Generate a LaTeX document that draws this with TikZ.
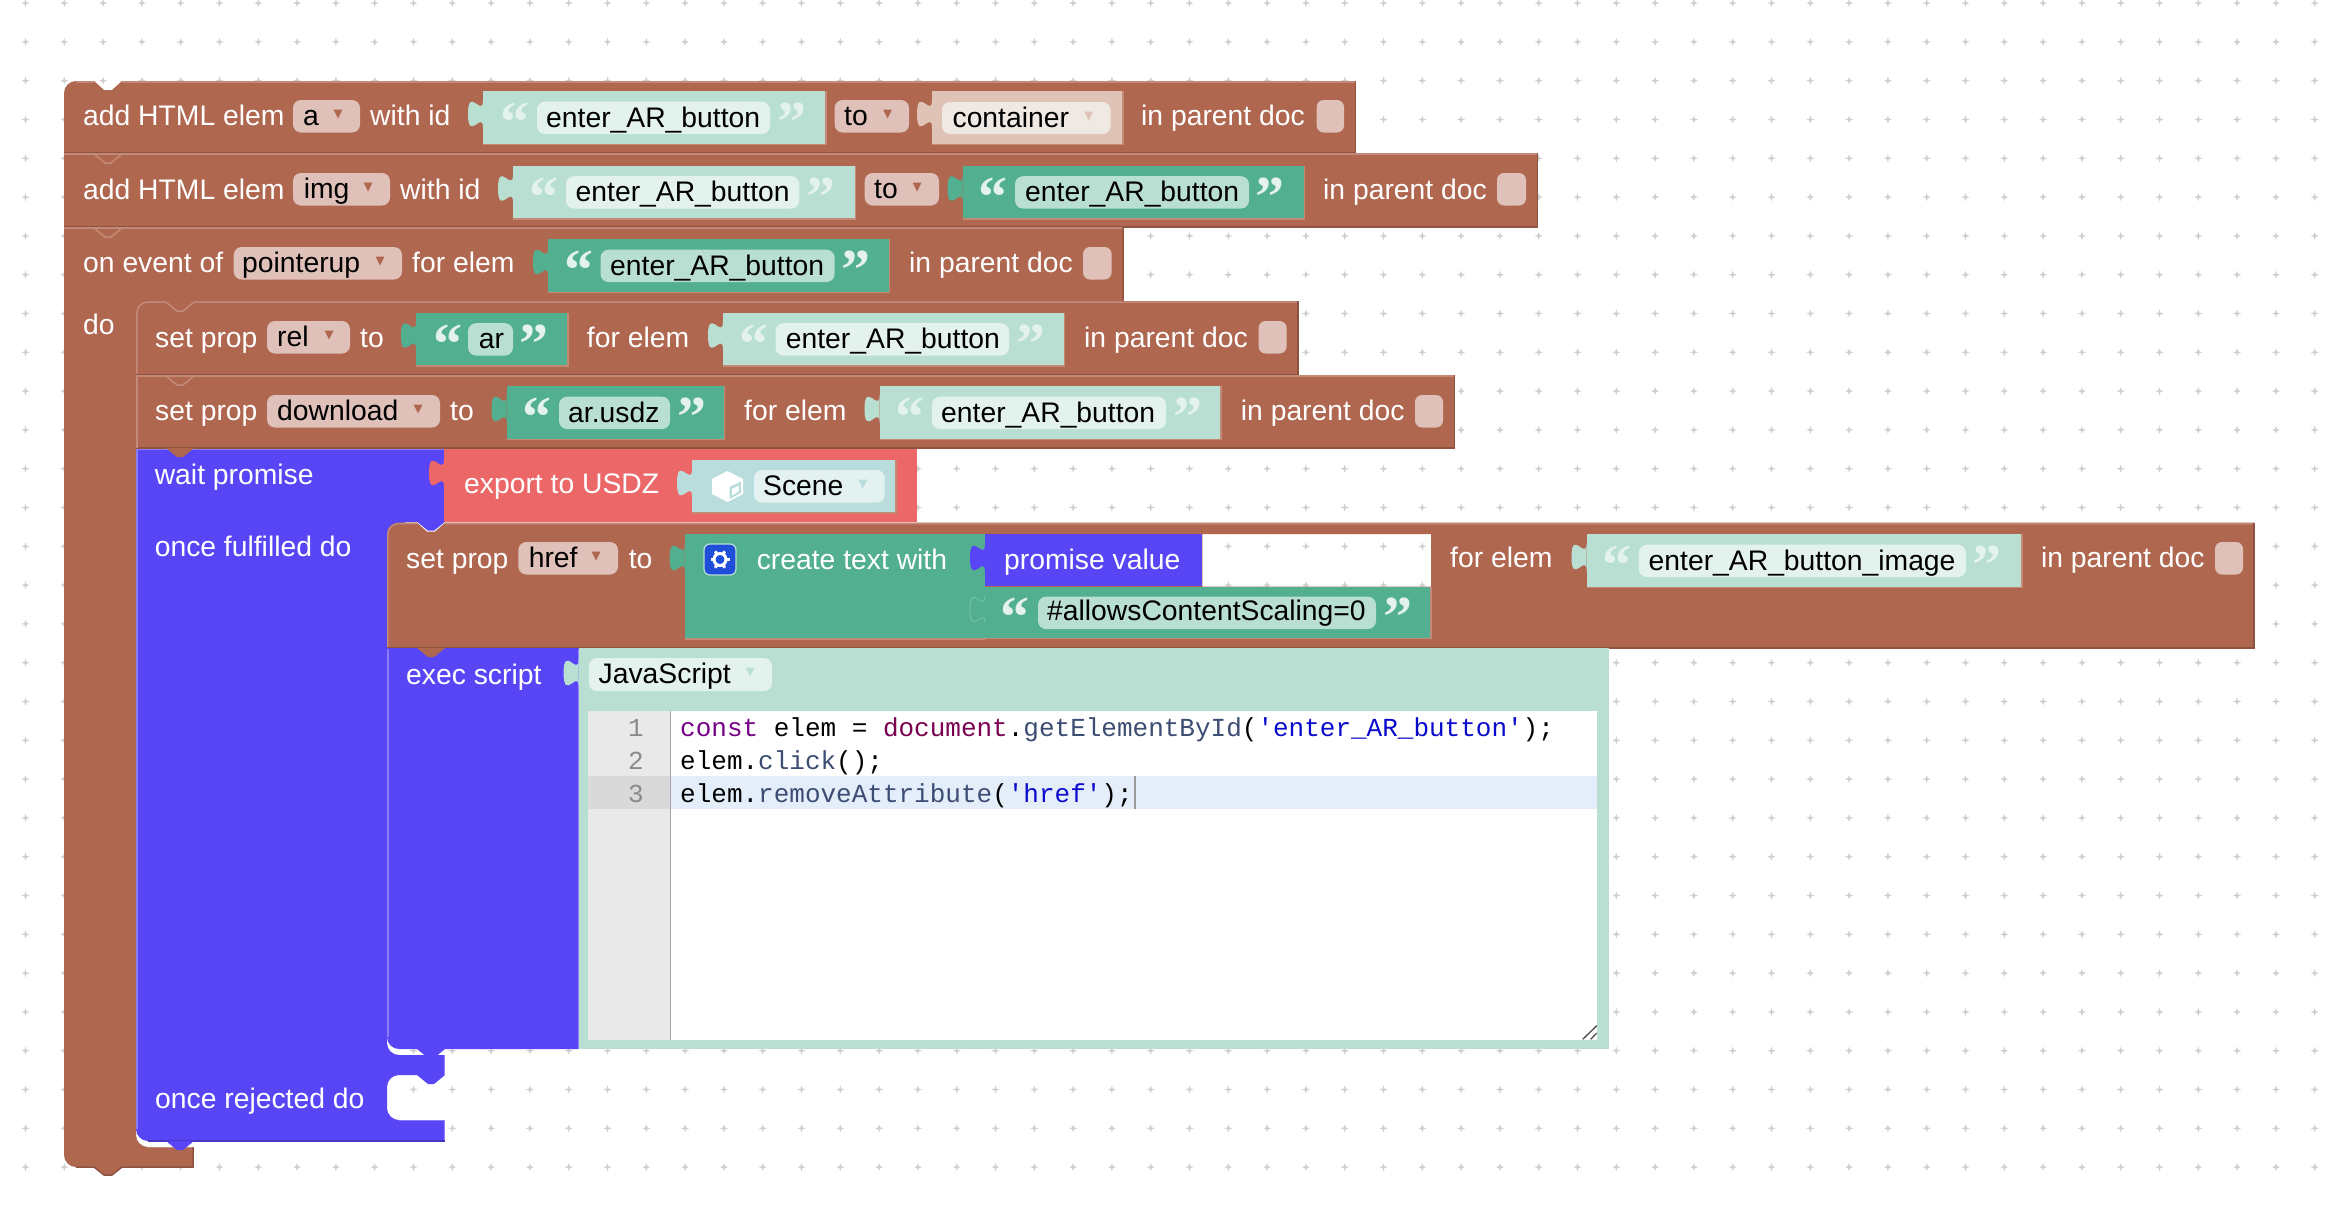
\documentclass[tikz,border=0pt]{standalone}
\usepackage{fontspec}
\setmainfont{Liberation Sans}
\setmonofont{Liberation Mono}
\newfontfamily\qfont{Liberation Serif}
\definecolor{brn}{HTML}{B06750}
\definecolor{brnL}{HTML}{C48A78}
\definecolor{brnD}{HTML}{8D5240}
\definecolor{pur}{HTML}{5846F6}
\definecolor{purL}{HTML}{8A7DFA}
\definecolor{purD}{HTML}{4638C5}
\definecolor{rd}{HTML}{EC6868}
\definecolor{gD}{HTML}{52AF90}
\definecolor{gL}{HTML}{B9DFD3}
\definecolor{gF}{HTML}{E3F2ED}
\definecolor{ddc}{HTML}{DFC1B9}
\definecolor{contc}{HTML}{DFC3B6}
\definecolor{contf}{HTML}{F0E8E3}
\definecolor{scn}{HTML}{B9DCDC}
\definecolor{scnf}{HTML}{E3F1F1}
\definecolor{dotc}{HTML}{CFCFCF}
\definecolor{gut}{HTML}{E9E9E9}
\definecolor{gutA}{HTML}{D9D9D9}
\definecolor{lineA}{HTML}{E4EEFB}
\definecolor{ckw}{HTML}{770088}
\definecolor{cdef}{HTML}{7A0050}
\definecolor{cprop}{HTML}{3C4C72}
\definecolor{cstr}{HTML}{0A0ACC}
\definecolor{cnum}{HTML}{8A8A8A}
\definecolor{gearb}{HTML}{1F4FD8}
\newcounter{tn}
\tikzset{
  lab/.style={anchor=base west,inner sep=0pt,text=white,font=\fontsize{28.3}{32}\selectfont},
  fldtxt/.style={anchor=base west,inner sep=0pt,text=black,font=\fontsize{28.3}{32}\selectfont},
  quo/.style={anchor=base,inner sep=0pt,font=\qfont\bfseries\fontsize{58}{58}\selectfont},
  codetxt/.style={anchor=base west,inner sep=0pt,text=black,font=\ttfamily\fontsize{26}{30}\selectfont},
  numtxt/.style={anchor=base east,inner sep=0pt,text=cnum,font=\ttfamily\fontsize{26}{30}\selectfont}
}
\newcommand{\lbl}[3]{\stepcounter{tn}\node[lab] (t\thetn) at (#1,{#2+1.5}) {#3};}
\newcommand{\ftx}[3]{\stepcounter{tn}\node[fldtxt] (t\thetn) at (#1,#2) {#3};}
% input puzzle tab: x, y of start, colour
\newcommand{\itab}[3]{\fill[#3] (#1,#2) .. controls +(0,18.75) and +(0,-29) .. ({#1-15},{#2+14}) .. controls +(0,29) and +(0,-18.7) .. (#1,{#2+28}) -- cycle;}
% value box with edges
\newcommand{\valbox}[5]{\fill[#5] (#1,#2) rectangle (#3,#4);\itab{#1}{#2+9}{#5}%
  \draw[brnL,line width=1.5pt] (#1,#4) -- (#3,#4) -- (#3,#2);}
\newcommand{\fld}[5]{\fill[#5,rounded corners=8pt] (#1,#2) rectangle (#3,#4);}
\newcommand{\arrowd}[3]{\fill[#3] ({#1-4.5},{#2-4.5}) -- ({#1+4.5},{#2-4.5}) -- (#1,{#2+4.5}) -- cycle;}
% dropdown on a brown block: x0 ftop x1 textx arrowx text
\newcommand{\dd}[6]{\fld{#1}{#2}{#3}{#2+32.5}{ddc}\ftx{#4}{#2+25}{#6}\arrowd{#5}{#2+14}{brn}}
\newcommand{\cb}[3]{\fill[ddc,rounded corners=7pt] (#1,#2) rectangle (#3,{#2+32.5});}
\newcommand{\qo}[3]{\stepcounter{tn}\node[quo,text=#3] (t\thetn) at (#1,{#2+40}) {“};}
\newcommand{\qc}[3]{\stepcounter{tn}\node[quo,text=#3] (t\thetn) at (#1,{#2+40}) {”};}
% string: x0 top x1 fx0 fx1 qox qcx tx text
\newcommand{\sL}[9]{\valbox{#1}{#2}{#3}{#2+53.5}{gL}\fld{#4}{#2+10.7}{#5}{#2+43}{gF}\qo{#6}{#2+10.7}{gF}\qc{#7}{#2+10.7}{gF}\ftx{#8}{#2+36}{#9}}
\newcommand{\sD}[9]{\valbox{#1}{#2}{#3}{#2+53.5}{gD}\fld{#4}{#2+10.7}{#5}{#2+43}{gL}\qo{#6}{#2+10.7}{gF}\qc{#7}{#2+10.7}{gF}\ftx{#8}{#2+36}{#9}}
% statement rectangle with edges
\newcommand{\rowb}[4]{\fill[brn] (#1,#2) rectangle (#3,#4);
  \draw[brnL,line width=1.5pt] (#1,{#2+1}) -- (#3,{#2+1});
  \draw[brnD,line width=1.5pt] (#1,#4) -- (#3,#4) -- (#3,#2);}
% nub hanging below a block edge: x0 y colour
\newcommand{\nub}[3]{\fill[#3] ({#1+30},#2) -- ({#1+41},{#2+9}) -- ({#1+47},{#2+9}) -- ({#1+58},#2) -- cycle;}
\newcommand{\nubV}[2]{\draw[brnL,line width=1.5pt] ({#1+30},{#2+1}) -- ({#1+41},{#2+10}) -- ({#1+47},{#2+10}) -- ({#1+58},{#2+1});}
\begin{document}
\begin{tikzpicture}[x=1pt,y=-1pt]
\useasboundingbox (0,0) rectangle (2351,1221);
\fill[white] (0,0) rectangle (2351,1221);
% grid
\foreach \i in {0,...,59}{\foreach \j in {0,...,30}{
  \pgfmathsetmacro{\gx}{25.5+38.8*\i}\pgfmathsetmacro{\gy}{3.1+38.8*\j}
  \fill[dotc] (\gx,\gy-4) -- (\gx+1,\gy-1) -- (\gx+4,\gy) -- (\gx+1,\gy+1) -- (\gx,\gy+4) -- (\gx-1,\gy+1) -- (\gx-4,\gy) -- (\gx-1,\gy-1) -- cycle;
}}
% ===== outer statements =====
\fill[brn] (64,93) .. controls +(0,-6.6) and +(-6.6,0) .. (76,81) -- (94,81) -- (104,90) -- (112,90) -- (122,81) -- (1355.5,81) -- (1355.5,153) -- (64,153) -- cycle;
\draw[brnL,line width=1.5pt] (76,82) -- (94,82) (122,82) -- (1355.5,82);
\draw[brnD,line width=1.5pt] (64,153) -- (1355.5,153) -- (1355.5,81);
\rowb{64}{153}{1537.7}{227}
\nubV{64}{153}
% spine + event block
\fill[brn] (64,227) -- (1123,227) -- (1123,301) -- (136,301) -- (136,1135) .. controls +(0,6.6) and +(-6.6,0) .. (148,1147) -- (193,1147) -- (193,1167) -- (122,1167) -- (112,1175) -- (104,1175) -- (94,1167) -- (76,1167) .. controls +(-6.6,0) and +(0,6.6) .. (64,1155) -- cycle;
\fill[brn] (134,299) rectangle (150,315);
\draw[brnL,line width=1.5pt] (64,228) -- (1123,228) (148,1147.5) -- (193,1147.5);
\draw[brnD,line width=1.5pt] (1123,227) -- (1123,301) (193,1147) -- (193,1167) -- (122,1167) -- (112,1175) -- (104,1175) -- (94,1167) -- (76,1167);
\nubV{64}{227}
% set prop rel / download
\fill[brn] (136,313) .. controls +(0,-6.6) and +(-6.6,0) .. (148,301) -- (1298,301) -- (1298,375) -- (136,375) -- cycle;
\draw[brnL,line width=1.5pt] (136.8,375) -- (136.8,313) .. controls +(0,-6) and +(-6,0) .. (148,302) -- (166,302) (194,302) -- (1298,302);
\draw[brnD,line width=1.5pt] (136,375) -- (1298,375) -- (1298,301);
\nubV{136}{301}
\rowb{136}{375}{1454.5}{448}
\draw[brnL,line width=1.5pt] (136.8,375) -- (136.8,448);
\nubV{136}{375}
% ===== purple promise block =====
\fill[pur] (387,520) rectangle (405,540);
\fill[pur] (136,449) -- (444,449) -- (444,522) -- (387,522) -- (387,1043) .. controls +(0,6.6) and +(-6.6,0) .. (399,1055) -- (444.6,1055) -- (444.6,1075) -- (399,1075) .. controls +(-6.6,0) and +(0,-6.6) .. (387,1087) -- (387,1108) .. controls +(0,6.6) and +(-6.6,0) .. (399,1120) -- (444.6,1120) -- (444.6,1141) -- (148,1141) .. controls +(-6.6,0) and +(0,6.6) .. (136,1129) -- cycle;
\draw[purD,line width=1.5pt] (148,1141) -- (444.6,1141);
\draw[purL,line width=1.5pt] (136,449.5) -- (444,449.5) (399,1120.5) -- (444.6,1120.5) (136.8,449) -- (136.8,1129);
\nub{136}{448}{brn}
\nub{136}{1141}{pur}
\nub{387}{1075}{pur}
% export to USDZ
\fill[rd] (444,449) rectangle (917,521.7);
\itab{444}{459}{rd}
\valbox{692}{460}{896}{513}{scn}
% Scene field
\fld{754}{470}{884.7}{502.7}{scnf}
\ftx{763}{495}{Scene}
\arrowd{862.8}{484}{scn}
\lbl{464}{492}{export to USDZ}
% cube icon
\fill[white] (727.5,471) -- (743,479) -- (743,494) -- (727.5,502) -- (712,494) -- (712,479) -- cycle;
\fill[scn] (729.5,487) -- (741,481.5) -- (741,493) -- (729.5,499) -- cycle;
\fill[white] (732,489) -- (738.5,485.5) -- (738.5,491.5) -- (732,495.5) -- cycle;
% ===== set prop href with window =====
\fill[brn,even odd rule] (387,534) .. controls +(0,-6.6) and +(-6.6,0) .. (399,522.7) -- (417,522.7) -- (427,531.7) -- (435,531.7) -- (445,522.7) -- (2254,522.7) -- (2254,648) -- (387,648) -- cycle (1202.4,534) rectangle (1431,586.5);
\draw[brnL,line width=1.5pt] (387.8,648) -- (387.8,534) .. controls +(0,-6) and +(-6,0) .. (399,523.5) -- (417,523.5) (445,523.5) -- (2254,523.5);
\draw[brnD,line width=1.5pt] (387,648) -- (2254,648) -- (2254,522.7);
\nub{387}{521.7}{pur}
% ===== exec script =====
\fill[pur] (387,648) -- (578.6,648) -- (578.6,1049) -- (399,1049) .. controls +(-6.6,0) and +(0,6.6) .. (387,1037) -- cycle;
\draw[purL,line width=1.5pt] (387.8,649) -- (387.8,1037);
\fill[gL] (578.6,648) rectangle (1608.7,1049);
\nub{387}{1049}{pur}
\nub{387}{648}{brn}
\itab{578.6}{659}{gL}
\fld{588.8}{658}{772}{691}{gF}
\ftx{598.5}{683}{JavaScript}
\arrowd{750}{672}{gL}
\lbl{406}{683}{exec script}
% editor
\fill[white] (588,711) rectangle (1597,1040);
\fill[gut] (588,711) rectangle (670,1040);
\fill[gutA] (588,776) rectangle (670,809);
\fill[lineA] (671,776) rectangle (1597,809);
\draw[black!35,line width=1pt] (670.5,711) -- (670.5,1040);
\draw[black!40,line width=1.5pt] (1135,776) -- (1135,809);
\draw[black!70,line width=1.3pt] (1582.7,1039.3) -- (1596.7,1025.7) (1590.7,1039.3) -- (1596.7,1033);
\stepcounter{tn}\node[numtxt] (t\thetn) at (644,736) {1};
\stepcounter{tn}\node[numtxt] (t\thetn) at (644,769) {2};
\stepcounter{tn}\node[numtxt] (t\thetn) at (644,802) {3};
\stepcounter{tn}\node[codetxt] (t\thetn) at (680,736) {\textcolor{ckw}{const} elem = \textcolor{cdef}{document}.\textcolor{cprop}{getElementById}(\textcolor{cstr}{'enter\_AR\_button'});};
\stepcounter{tn}\node[codetxt] (t\thetn) at (680,769) {elem.\textcolor{cprop}{click}();};
\stepcounter{tn}\node[codetxt] (t\thetn) at (680,802) {elem.\textcolor{cprop}{removeAttribute}(\textcolor{cstr}{'href'});};
% ===== row 1 =====
\lbl{83}{124}{add HTML elem}
\dd{293}{100}{360}{303}{338}{a}
\lbl{370}{124}{with id}
\sL{483}{91}{826}{537}{770}{515}{792}{546}{enter\_AR\_button}
\dd{834.6}{100}{909}{844}{887.6}{to}
\valbox{932}{91}{1123}{144.7}{contc}
\fld{942}{102}{1110.6}{134}{contf}
\ftx{952.4}{127}{container}
\arrowd{1088.7}{116}{contc}
\lbl{1141}{124}{in parent doc}
\cb{1316.7}{100}{1344}
% ===== row 2 =====
\lbl{83}{197.5}{add HTML elem}
\dd{293}{173}{390}{303.6}{368}{img}
\lbl{400}{197.5}{with id}
\sL{513}{165.5}{855.5}{566}{799.4}{544}{821}{575.5}{enter\_AR\_button}
\dd{864.7}{173}{939}{874}{917}{to}
\sD{962.6}{165.5}{1304.5}{1015}{1249}{993}{1270}{1025}{enter\_AR\_button}
\lbl{1323}{197.5}{in parent doc}
\cb{1497}{173}{1526}
% ===== row 3 =====
\lbl{83}{271}{on event of}
\dd{233.7}{247}{402}{242}{380}{pointerup}
\lbl{412}{271}{for elem}
\sD{548}{239}{889.7}{600.5}{834.6}{579}{855.5}{610}{enter\_AR\_button}
\lbl{909}{271}{in parent doc}
\cb{1083}{247}{1111.6}
\lbl{83}{333}{do}
% ===== row 4 =====
\lbl{155}{345.5}{set prop}
\dd{267}{321}{350}{277}{329}{rel}
\lbl{360}{345.5}{to}
\sD{416}{312.5}{568}{468}{513}{448}{534}{478.6}{ar}
\lbl{586.7}{345.5}{for elem}
\sL{723}{312.5}{1064.7}{775.5}{1009}{754}{1031}{785.7}{enter\_AR\_button}
\lbl{1084}{345.5}{in parent doc}
\cb{1258.6}{321}{1286.6}
% ===== row 5 =====
\lbl{155}{419}{set prop}
\dd{267}{395}{440}{277}{418}{download}
\lbl{450}{419}{to}
\sD{506.6}{386}{724.5}{559}{670}{537}{692}{568}{ar.usdz}
\lbl{744}{419}{for elem}
\sL{879.5}{386}{1220.8}{932}{1166}{910}{1188}{941}{enter\_AR\_button}
\lbl{1240.7}{419}{in parent doc}
\cb{1415}{395}{1443}
% ===== promise labels =====
\lbl{154.6}{483}{wait promise}
\lbl{154.6}{555}{once fulfilled do}
\lbl{155}{1106.7}{once rejected do}
% ===== href row =====
\lbl{406}{566.7}{set prop}
\dd{518.4}{542}{618}{528.6}{596}{href}
\lbl{628.6}{566.7}{to}
\fill[gD] (684.7,534) rectangle (984.6,639);
\itab{684.7}{544}{gD}
\draw[brnL,line width=1.5pt] (684.7,639) -- (984.6,639);
\fill[gearb,draw=gL,line width=1.2pt,rounded corners=6pt] (704,544) rectangle (736,575);
\draw[white,line width=3pt] (720,559.5) circle[radius=6];
\foreach \a in {0,60,120,180,240,300}{\draw[white,line width=3pt] (720,559.5) ++(\a:6) -- ++(\a:3.5);}
\lbl{756.6}{568}{create text with}
\fill[pur] (985,534) rectangle (1202.4,586);
\itab{985}{544}{pur}
\lbl{1004}{568}{promise value}
\fill[gD] (985,586.5) rectangle (1431,638.5);
\draw[brnL,line width=1.5pt] (985,638.5) -- (1431,638.5) -- (1431,586.5);
\draw[gD!60!gL,line width=0.8pt] (985,595.5) .. controls +(0,18.75) and +(0,-29) .. (970,609.5) .. controls +(0,29) and +(0,-18.7) .. (985,623.5);
\fld{1038}{596.7}{1376}{629}{gL}
\qo{1015}{596.7}{gF}
\qc{1398}{596.7}{gF}
\ftx{1047}{620}{\#allowsContentScaling=0}
\lbl{1450}{566}{for elem}
\sL{1586.5}{534}{2022}{1638.8}{1966}{1617}{1987}{1648.5}{enter\_AR\_button\_image}
\lbl{2040.8}{566}{in parent doc}
\cb{2215}{542}{2243}
\end{tikzpicture}
\end{document}
